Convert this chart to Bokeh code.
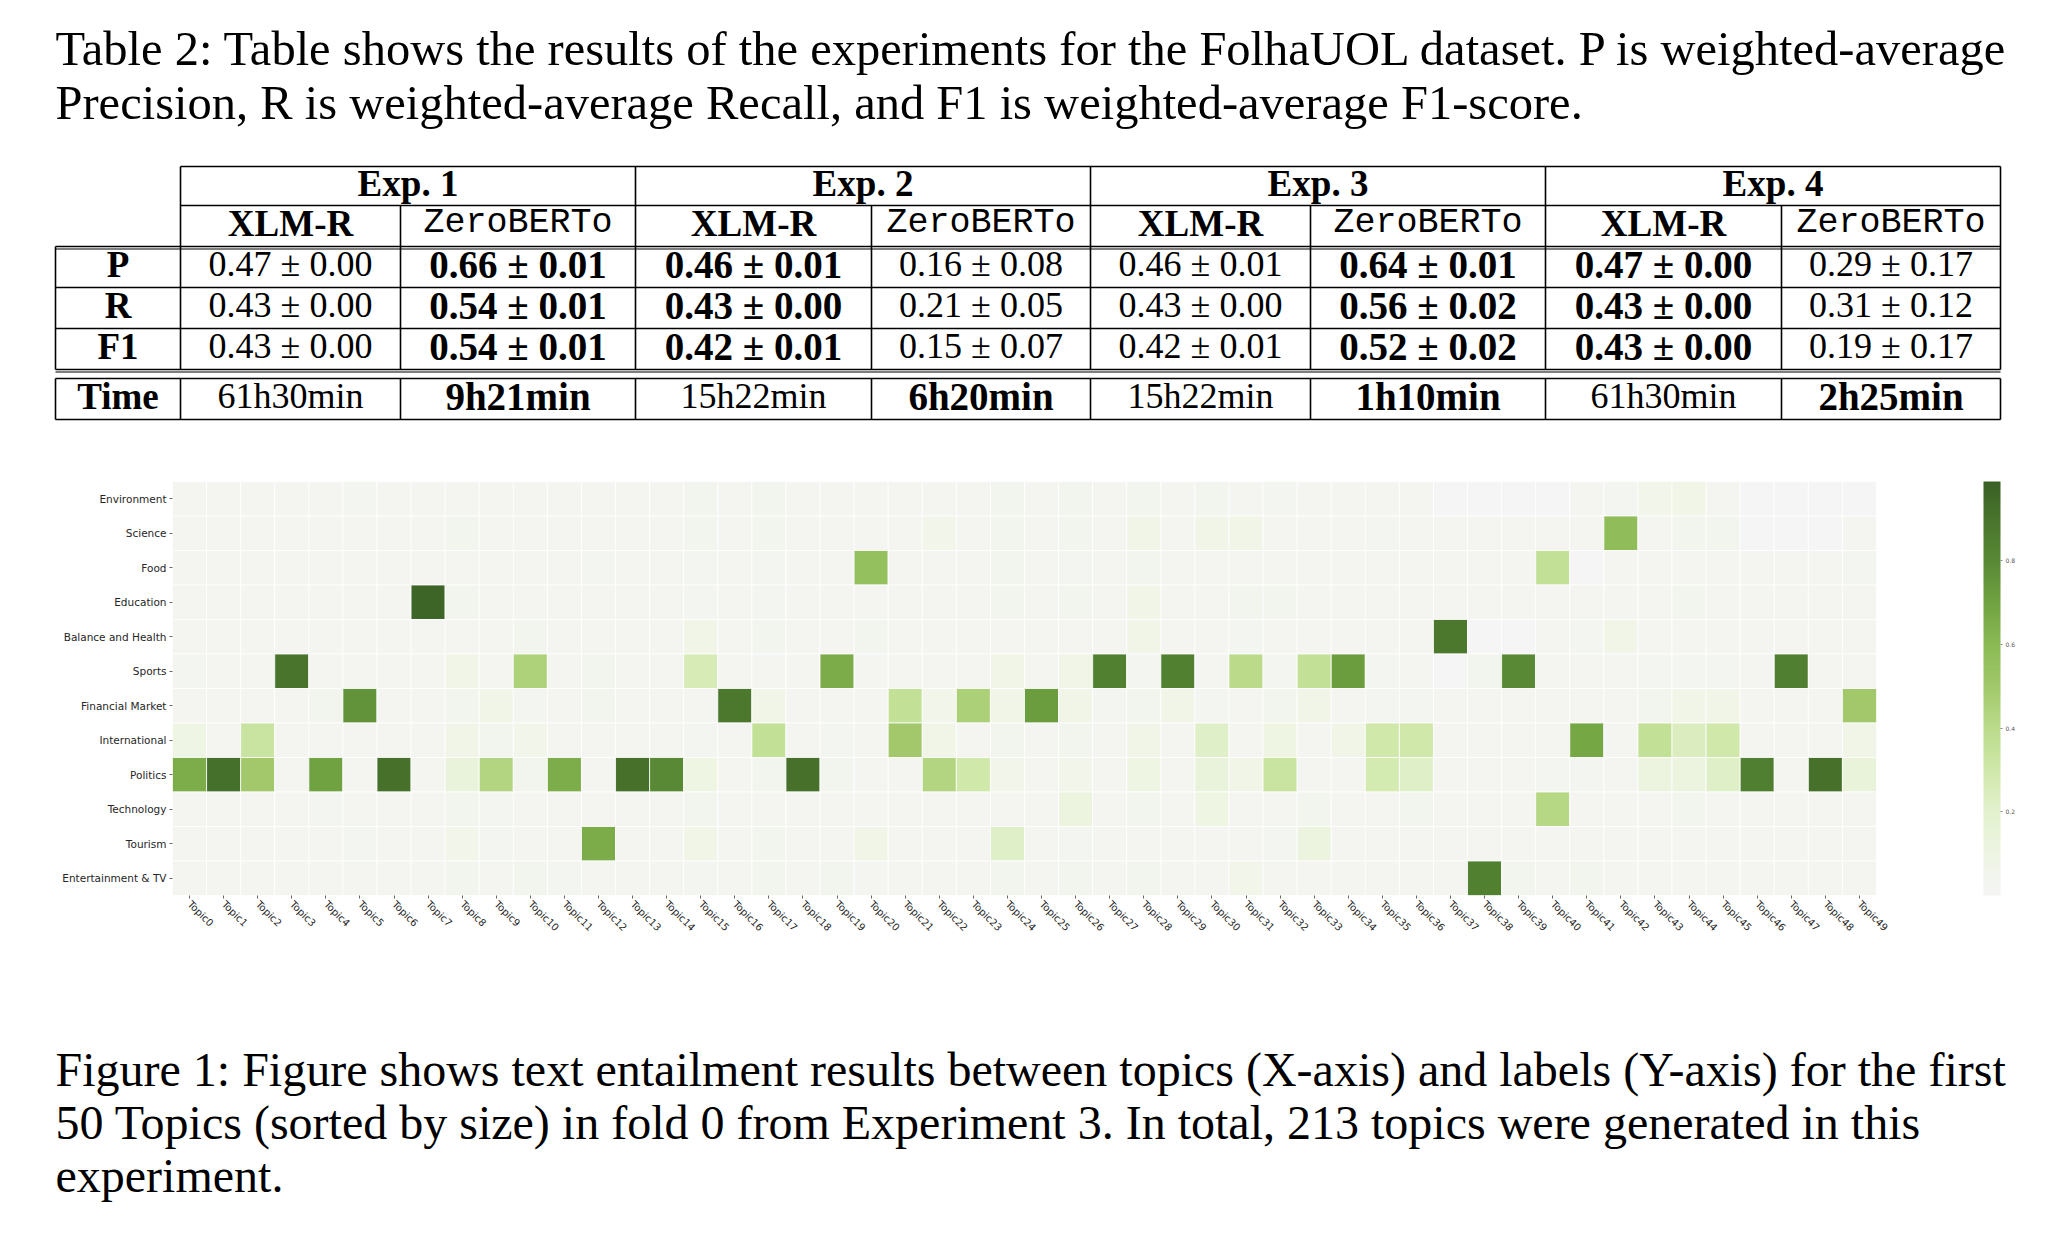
import math
import numpy as np
from bokeh.plotting import figure
from bokeh.models import (ColumnDataSource, LinearColorMapper, ColorBar, FixedTicker,
                          FactorRange, Range1d)
from bokeh.transform import transform
from bokeh.core.properties import value
from bokeh.embed import file_html
from bokeh.resources import INLINE

# ---------------- text / table data ----------------
table_caption = [
    "Table 2: Table shows the results of the experiments for the FolhaUOL dataset. P is weighted-average",
    "Precision, R is weighted-average Recall, and F1 is weighted-average F1-score.",
]
figure_caption = [
    "Figure 1: Figure shows text entailment results between topics (X-axis) and labels (Y-axis) for the first",
    "50 Topics (sorted by size) in fold 0 from Experiment 3. In total, 213 topics were generated in this",
    "experiment.",
]
exp_names = ["Exp. 1", "Exp. 2", "Exp. 3", "Exp. 4"]
model_names = ["XLM-R", "ZeroBERTo", "XLM-R", "ZeroBERTo", "XLM-R", "ZeroBERTo", "XLM-R", "ZeroBERTo"]
metric_names = ["P", "R", "F1"]
p_values = ["0.47 ± 0.00", "0.66 ± 0.01", "0.46 ± 0.01", "0.16 ± 0.08",
            "0.46 ± 0.01", "0.64 ± 0.01", "0.47 ± 0.00", "0.29 ± 0.17"]
r_values = ["0.43 ± 0.00", "0.54 ± 0.01", "0.43 ± 0.00", "0.21 ± 0.05",
            "0.43 ± 0.00", "0.56 ± 0.02", "0.43 ± 0.00", "0.31 ± 0.12"]
f1_values = ["0.43 ± 0.00", "0.54 ± 0.01", "0.42 ± 0.01", "0.15 ± 0.07",
             "0.42 ± 0.01", "0.52 ± 0.02", "0.43 ± 0.00", "0.19 ± 0.17"]
time_label = "Time"
time_values = ["61h30min", "9h21min", "15h22min", "6h20min",
               "15h22min", "1h10min", "61h30min", "2h25min"]
metric_bold = [False, True, True, False, False, True, True, False]
time_bold = [False, True, False, True, False, True, False, True]

# ---------------- heatmap data ----------------
topics = ["Topic%d" % i for i in range(50)]
labels = ["Environment", "Science", "Food", "Education", "Balance and Health", "Sports",
          "Financial Market", "International", "Politics", "Technology", "Tourism",
          "Entertainment & TV"]

environment = [0.02,0.02,0.02,0.02,0.02,0.03,0.02,0.02,0.02,0.02,
               0.02,0.02,0.02,0.02,0.02,0.05,0.02,0.05,0.02,0.02,
               0.02,0.02,0.02,0.02,0.05,0.02,0.04,0.02,0.04,0.02,
               0.04,0.02,0.03,0.02,0.02,0.02,0.02,0.01,0.01,0.01,
               0.01,0.02,0.03,0.06,0.08,0.02,0.01,0.01,0.01,0.01]
science = [0.02,0.02,0.02,0.02,0.02,0.02,0.02,0.02,0.05,0.02,
           0.02,0.02,0.02,0.02,0.02,0.04,0.02,0.04,0.02,0.02,
           0.02,0.02,0.06,0.02,0.04,0.02,0.04,0.02,0.08,0.02,
           0.08,0.07,0.02,0.02,0.02,0.03,0.02,0.02,0.02,0.02,
           0.02,0.02,0.58,0.02,0.04,0.04,0.01,0.01,0.01,0.02]
food = [0.02,0.02,0.02,0.02,0.02,0.02,0.02,0.02,0.02,0.02,
        0.02,0.02,0.03,0.02,0.02,0.03,0.02,0.03,0.02,0.02,
        0.56,0.02,0.02,0.02,0.04,0.02,0.03,0.02,0.04,0.02,
        0.02,0.02,0.02,0.02,0.02,0.02,0.02,0.02,0.02,0.02,
        0.36,0.01,0.02,0.02,0.02,0.02,0.02,0.02,0.02,0.03]
education = [0.02,0.02,0.02,0.02,0.02,0.02,0.02,0.97,0.04,0.02,
             0.02,0.02,0.02,0.02,0.02,0.03,0.02,0.03,0.02,0.02,
             0.02,0.02,0.02,0.02,0.04,0.02,0.04,0.02,0.07,0.02,
             0.02,0.05,0.04,0.02,0.02,0.02,0.02,0.02,0.02,0.02,
             0.02,0.02,0.02,0.02,0.04,0.02,0.02,0.02,0.02,0.02]
balance_health = [0.02,0.02,0.02,0.02,0.02,0.02,0.02,0.02,0.02,0.02,
                  0.04,0.02,0.02,0.02,0.02,0.07,0.02,0.04,0.02,0.02,
                  0.04,0.02,0.02,0.02,0.02,0.02,0.02,0.02,0.08,0.02,
                  0.02,0.03,0.02,0.02,0.02,0.02,0.02,0.88,0.01,0.01,
                  0.02,0.03,0.08,0.02,0.02,0.02,0.02,0.02,0.02,0.02]
sports = [0.03,0.02,0.02,0.90,0.02,0.02,0.02,0.02,0.08,0.02,
          0.45,0.02,0.04,0.02,0.02,0.27,0.02,0.02,0.02,0.66,
          0.02,0.02,0.02,0.02,0.07,0.02,0.08,0.84,0.03,0.84,
          0.02,0.40,0.03,0.36,0.72,0.03,0.02,0.01,0.05,0.80,
          0.02,0.02,0.02,0.03,0.03,0.03,0.02,0.85,0.02,0.02]
financial_market = [0.02,0.02,0.02,0.02,0.04,0.76,0.02,0.02,0.05,0.07,
                    0.03,0.02,0.04,0.02,0.02,0.02,0.88,0.08,0.02,0.02,
                    0.02,0.36,0.06,0.46,0.08,0.72,0.07,0.03,0.04,0.08,
                    0.03,0.02,0.05,0.08,0.02,0.03,0.03,0.02,0.02,0.02,
                    0.02,0.02,0.02,0.05,0.07,0.07,0.02,0.02,0.02,0.50]
international = [0.09,0.02,0.33,0.02,0.02,0.02,0.02,0.02,0.07,0.05,
                 0.06,0.02,0.02,0.02,0.02,0.03,0.02,0.36,0.02,0.03,
                 0.02,0.50,0.07,0.02,0.04,0.02,0.05,0.02,0.08,0.02,
                 0.22,0.02,0.10,0.02,0.07,0.30,0.30,0.02,0.02,0.02,
                 0.02,0.68,0.02,0.36,0.24,0.30,0.02,0.02,0.02,0.07]
politics = [0.65,0.92,0.50,0.02,0.70,0.02,0.91,0.02,0.14,0.43,
            0.04,0.65,0.02,0.91,0.80,0.10,0.02,0.04,0.91,0.04,
            0.02,0.02,0.43,0.30,0.06,0.02,0.06,0.02,0.10,0.02,
            0.14,0.07,0.33,0.02,0.02,0.28,0.22,0.02,0.02,0.02,
            0.03,0.03,0.02,0.12,0.12,0.22,0.85,0.02,0.91,0.15]
technology = [0.02,0.02,0.02,0.02,0.03,0.02,0.02,0.02,0.05,0.03,
              0.02,0.02,0.02,0.02,0.02,0.04,0.02,0.02,0.02,0.02,
              0.02,0.02,0.02,0.02,0.02,0.02,0.12,0.02,0.04,0.02,
              0.10,0.02,0.02,0.05,0.02,0.02,0.04,0.02,0.02,0.02,
              0.42,0.02,0.02,0.02,0.04,0.02,0.02,0.02,0.02,0.02]
tourism = [0.02,0.02,0.02,0.02,0.02,0.03,0.02,0.02,0.06,0.03,
           0.02,0.02,0.66,0.02,0.02,0.07,0.02,0.04,0.02,0.02,
           0.07,0.02,0.02,0.02,0.22,0.02,0.03,0.02,0.02,0.02,
           0.02,0.02,0.03,0.12,0.02,0.02,0.02,0.02,0.02,0.02,
           0.02,0.02,0.02,0.02,0.02,0.02,0.02,0.02,0.02,0.02]
entertainment_tv = [0.02,0.02,0.02,0.02,0.02,0.02,0.02,0.02,0.05,0.02,
                    0.05,0.03,0.02,0.02,0.02,0.03,0.02,0.04,0.02,0.05,
                    0.02,0.02,0.02,0.02,0.04,0.02,0.04,0.02,0.04,0.02,
                    0.02,0.06,0.02,0.02,0.02,0.02,0.02,0.02,0.84,0.04,
                    0.02,0.05,0.02,0.02,0.02,0.02,0.02,0.02,0.02,0.02]
colorbar_ticks = [0.2, 0.4, 0.6, 0.8]

rows = [environment, science, food, education, balance_health, sports, financial_market,
        international, politics, technology, tourism, entertainment_tv]

# ---------------- styling ----------------
SERIF = "Liberation Serif"
MONO = "Liberation Mono"
SANS = "DejaVu Sans"
W = 2050

stop_vals = [0.0, 0.1, 0.2, 0.3, 0.4, 0.5, 0.6, 0.7, 0.8, 0.9, 1.0]
stop_cols = ["#f5f5f5", "#eef5e3", "#e3f1cf", "#d0e8aa", "#bcdc8c", "#a3c96c",
             "#8cbb55", "#72a443", "#5b8b36", "#4a762d", "#3a6125"]
rgb = np.array([[int(c[i:i + 2], 16) for i in (1, 3, 5)] for c in stop_cols], dtype=float)
tt = np.linspace(0, 1, 256)
palette = ["#%02x%02x%02x" % tuple(int(round(np.interp(t, stop_vals, rgb[:, k]))) for k in range(3))
           for t in tt]


def blank_fig(height, y0, y1):
    f = figure(width=W, height=height, x_range=Range1d(0, W), y_range=Range1d(y1, y0),
               output_backend="svg", toolbar_location=None, min_border=0,
               x_axis_type=None, y_axis_type=None)
    f.grid.visible = False
    f.outline_line_color = None
    f.background_fill_color = "white"
    f.border_fill_color = "white"
    return f


# ================= top: caption + table =================
TOP_H = 470
top = blank_fig(TOP_H, 0, TOP_H)

top.text(x=[55, 55], y=[48, 102], text=table_caption, text_font=value(SERIF),
         text_font_size="48.5px", text_baseline="middle", text_align="left", text_color="black")

col_edges = [180, 400, 635, 871, 1090, 1310, 1545, 1781, 2000]
row_edges = [166, 205, 246, 287, 328, 369]
time_edges = [378, 419]
left_edge = 55

hx0, hx1, hy = [], [], []
for yv in row_edges[:2]:
    hx0.append(col_edges[0]); hx1.append(col_edges[-1]); hy.append(yv)
for yv in row_edges[2:] + time_edges:
    hx0.append(left_edge); hx1.append(col_edges[-1]); hy.append(yv)
top.segment(x0=hx0, y0=hy, x1=hx1, y1=hy, line_color="black", line_width=1.6)
top.segment(x0=[left_edge, left_edge], y0=[248.5, 371.5], x1=[col_edges[-1]] * 2, y1=[248.5, 371.5],
            line_color="black", line_width=1.2)

vx, vy0, vy1 = [], [], []
for i, xv in enumerate(col_edges):
    if i in (0, 2, 4, 6, 8):
        vx.append(xv); vy0.append(row_edges[0]); vy1.append(row_edges[-1])
    else:
        vx.append(xv); vy0.append(row_edges[1]); vy1.append(row_edges[-1])
    vx.append(xv); vy0.append(time_edges[0]); vy1.append(time_edges[1])
for yy in [(row_edges[2], row_edges[-1]), (time_edges[0], time_edges[1])]:
    vx.append(left_edge); vy0.append(yy[0]); vy1.append(yy[1])
top.segment(x0=vx, y0=vy0, x1=vx, y1=vy1, line_color="black", line_width=1.6)

TXT_SHIFT = -3
col_centers = [(col_edges[i] + col_edges[i + 1]) / 2 for i in range(8)]
exp_centers = [(col_edges[2 * i] + col_edges[2 * i + 2]) / 2 for i in range(4)]
row_centers = [(row_edges[i] + row_edges[i + 1]) / 2 + TXT_SHIFT for i in range(5)]
time_center = (time_edges[0] + time_edges[1]) / 2 + TXT_SHIFT
label_center = (left_edge + col_edges[0]) / 2

bold_x, bold_y, bold_t = [], [], []
num_x, num_y, num_t = [], [], []
reg_x, reg_y, reg_t = [], [], []
mono_x, mono_y, mono_t = [], [], []

for i, e in enumerate(exp_names):
    bold_x.append(exp_centers[i]); bold_y.append(row_centers[0]); bold_t.append(e)
for i, m in enumerate(model_names):
    if m == "ZeroBERTo":
        mono_x.append(col_centers[i]); mono_y.append(row_centers[1]); mono_t.append(m)
    else:
        bold_x.append(col_centers[i]); bold_y.append(row_centers[1]); bold_t.append(m)
for r, (name, vals) in enumerate(zip(metric_names, [p_values, r_values, f1_values])):
    bold_x.append(label_center); bold_y.append(row_centers[2 + r]); bold_t.append(name)
    for i, v in enumerate(vals):
        if metric_bold[i]:
            num_x.append(col_centers[i]); num_y.append(row_centers[2 + r]); num_t.append(v)
        else:
            reg_x.append(col_centers[i]); reg_y.append(row_centers[2 + r]); reg_t.append(v)
bold_x.append(label_center); bold_y.append(time_center); bold_t.append(time_label)
for i, v in enumerate(time_values):
    if time_bold[i]:
        num_x.append(col_centers[i]); num_y.append(time_center); num_t.append(v)
    else:
        reg_x.append(col_centers[i]); reg_y.append(time_center); reg_t.append(v)

top.text(x=bold_x, y=bold_y, text=bold_t, text_font=value(SERIF), text_font_style="bold",
         text_font_size="37px", text_align="center", text_baseline="middle", text_color="black")
top.text(x=num_x, y=num_y, text=num_t, text_font=value(SERIF), text_font_style="bold",
         text_font_size="39px", text_align="center", text_baseline="middle", text_color="black")
top.text(x=reg_x, y=reg_y, text=reg_t, text_font=value(SERIF),
         text_font_size="36px", text_align="center", text_baseline="middle", text_color="black")
top.text(x=mono_x, y=mono_y, text=mono_t, text_font=value(MONO),
         text_font_size="35px", text_align="center", text_baseline="middle", text_color="black")

# ================= middle: heatmap =================
HM_H = 480
xs, ys, vs = [], [], []
for lab, row in zip(labels, rows):
    for t, v in zip(topics, row):
        xs.append(t); ys.append(lab); vs.append(v)
src = ColumnDataSource(dict(topic=xs, label=ys, val=vs))
mapper = LinearColorMapper(palette=palette, low=0.0, high=0.99)

hm = figure(width=W, height=HM_H, x_range=FactorRange(*topics),
            y_range=FactorRange(*list(reversed(labels))),
            output_backend="svg", toolbar_location=None,
            min_border_left=172, min_border_right=174, min_border_top=11, min_border_bottom=55)
hm.rect(x="topic", y="label", width=1, height=1, source=src,
        fill_color=transform("val", mapper), line_color="white", line_width=0.8)
hm.grid.visible = False
hm.outline_line_color = None
hm.background_fill_color = "white"
hm.border_fill_color = "white"
hm.axis.axis_line_color = None
hm.axis.major_tick_line_color = "#666666"
hm.axis.major_tick_out = 3
hm.axis.major_tick_in = 0
hm.axis.major_label_text_font = SANS
hm.axis.major_label_text_color = "#262626"
hm.xaxis.major_label_text_font_size = "10px"
hm.xaxis.major_label_orientation = -math.pi / 4
hm.xaxis.major_label_standoff = 4
hm.yaxis.major_label_text_font_size = "10.5px"
hm.yaxis.major_label_standoff = 3

cb = ColorBar(color_mapper=mapper, ticker=FixedTicker(ticks=colorbar_ticks),
              orientation="vertical", width=17, height=414, location=(1811, 0),
              padding=0, margin=0, major_label_text_font_size="6px",
              major_label_text_color="#555555", major_label_text_font=SANS,
              major_tick_out=2, major_tick_in=0, major_tick_line_color="#888888",
              bar_line_color=None, border_line_color=None, background_fill_alpha=0,
              label_standoff=3)
hm.add_layout(cb)

# ================= bottom: figure caption =================
BOT_Y0 = TOP_H + HM_H
BOT_H = 1246 - BOT_Y0
bot = blank_fig(BOT_H, BOT_Y0, BOT_Y0 + BOT_H)
bot.text(x=[55, 55, 55], y=[1069, 1122, 1175], text=figure_caption, text_font=value(SERIF),
         text_font_size="48px", text_baseline="middle", text_align="left", text_color="black")

# separate roots so the figures' frames are not aligned to each other
open("out.html", "w").write(file_html([top, hm, bot], INLINE))
